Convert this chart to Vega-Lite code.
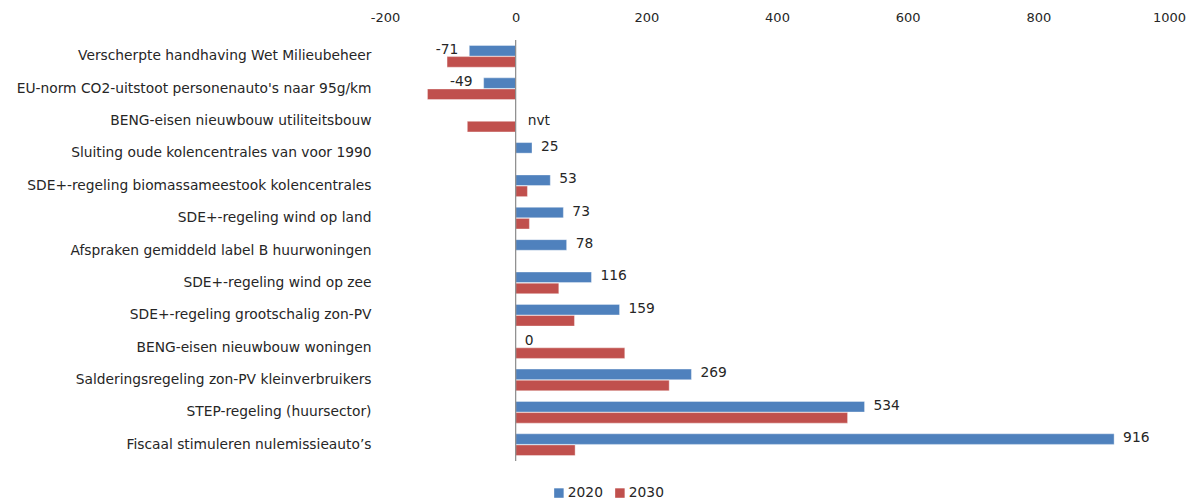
{
  "$schema": "https://vega.github.io/schema/vega-lite/v6.json",
  "width": 784,
  "height": 421,
  "autosize": {"type": "none"},
  "padding": {"left": 385, "top": 40, "right": 30, "bottom": 43},
  "background": "white",
  "config": {
    "view": {"stroke": null},
    "font": "DejaVu Sans",
    "text": {"font": "DejaVu Sans"}
  },
  "data": {
    "values": [
      {"category": "Verscherpte handhaving Wet Milieubeheer", "year": "2020", "value": -71, "label": "-71"},
      {"category": "Verscherpte handhaving Wet Milieubeheer", "year": "2030", "value": -105},
      {"category": "EU-norm CO2-uitstoot personenauto's naar 95g/km", "year": "2020", "value": -49, "label": "-49"},
      {"category": "EU-norm CO2-uitstoot personenauto's naar 95g/km", "year": "2030", "value": -135},
      {"category": "BENG-eisen nieuwbouw utiliteitsbouw", "year": "2020", "value": null, "label": "nvt"},
      {"category": "BENG-eisen nieuwbouw utiliteitsbouw", "year": "2030", "value": -74},
      {"category": "Sluiting oude kolencentrales van voor 1990", "year": "2020", "value": 25, "label": "25"},
      {"category": "Sluiting oude kolencentrales van voor 1990", "year": "2030", "value": null},
      {"category": "SDE+-regeling biomassameestook kolencentrales", "year": "2020", "value": 53, "label": "53"},
      {"category": "SDE+-regeling biomassameestook kolencentrales", "year": "2030", "value": 18},
      {"category": "SDE+-regeling wind op land", "year": "2020", "value": 73, "label": "73"},
      {"category": "SDE+-regeling wind op land", "year": "2030", "value": 21},
      {"category": "Afspraken gemiddeld label B huurwoningen", "year": "2020", "value": 78, "label": "78"},
      {"category": "Afspraken gemiddeld label B huurwoningen", "year": "2030", "value": null},
      {"category": "SDE+-regeling wind op zee", "year": "2020", "value": 116, "label": "116"},
      {"category": "SDE+-regeling wind op zee", "year": "2030", "value": 66},
      {"category": "SDE+-regeling grootschalig zon-PV", "year": "2020", "value": 159, "label": "159"},
      {"category": "SDE+-regeling grootschalig zon-PV", "year": "2030", "value": 90},
      {"category": "BENG-eisen nieuwbouw woningen", "year": "2020", "value": 0, "label": "0"},
      {"category": "BENG-eisen nieuwbouw woningen", "year": "2030", "value": 167},
      {"category": "Salderingsregeling zon-PV kleinverbruikers", "year": "2020", "value": 269, "label": "269"},
      {"category": "Salderingsregeling zon-PV kleinverbruikers", "year": "2030", "value": 235},
      {"category": "STEP-regeling (huursector)", "year": "2020", "value": 534, "label": "534"},
      {"category": "STEP-regeling (huursector)", "year": "2030", "value": 508},
      {"category": "Fiscaal stimuleren nulemissieauto’s", "year": "2020", "value": 916, "label": "916"},
      {"category": "Fiscaal stimuleren nulemissieauto’s", "year": "2030", "value": 91}
    ]
  },
  "encoding": {
    "y": {
      "field": "category",
      "type": "nominal",
      "sort": null,
      "scale": {"paddingInner": 0.33, "paddingOuter": 0.17},
      "axis": {
        "title": null,
        "domain": false,
        "ticks": false,
        "labelPadding": 14,
        "labelFontSize": 13.8,
        "labelColor": "#262626",
        "labelLimit": 400
      }
    }
  },
  "layer": [
    {
      "mark": {"type": "bar", "stroke": "white", "strokeWidth": 0.6, "strokeOpacity": 0.6},
      "transform": [{"filter": "datum.value != null"}],
      "encoding": {
        "x": {
          "field": "value",
          "type": "quantitative",
          "scale": {"domain": [-200, 1000], "nice": false, "zero": false},
          "axis": {
            "orient": "top",
            "values": [-200, 0, 200, 400, 600, 800, 1000],
            "labelExpr": "datum.value + ''",
            "labelFlush": false,
            "title": null,
            "domain": false,
            "ticks": false,
            "grid": false,
            "labelPadding": 16,
            "labelFontSize": 13,
            "labelColor": "#262626"
          }
        },
        "yOffset": {"field": "year", "type": "nominal", "scale": {"paddingInner": 0.05}},
        "color": {
          "field": "year",
          "type": "nominal",
          "scale": {"domain": ["2020", "2030"], "range": ["#4F81BD", "#C0504D"]},
          "legend": {
            "title": null,
            "orient": "none",
            "direction": "horizontal",
            "legendX": 167,
            "legendY": 446,
            "symbolType": "square",
            "symbolSize": 90,
            "symbolStrokeWidth": 0,
            "labelFontSize": 13.8,
            "labelColor": "#262626",
            "labelOffset": 2,
            "columnPadding": 10
          }
        }
      }
    },
    {
      "mark": {"type": "rule", "color": "#8a8a8a", "strokeWidth": 1.2},
      "data": {"values": [{"zero": 0}]},
      "encoding": {
        "x": {"field": "zero", "type": "quantitative"},
        "y": null
      }
    },
    {
      "mark": {"type": "text", "align": "left", "baseline": "middle", "dx": 9, "dy": -1, "fontSize": 13.8, "color": "#262626"},
      "transform": [{"filter": "datum.year == '2020' && datum.value != null && datum.value >= 0"}],
      "encoding": {
        "x": {"field": "value", "type": "quantitative"},
        "yOffset": {"field": "year", "type": "nominal"},
        "text": {"field": "label"}
      }
    },
    {
      "mark": {"type": "text", "align": "right", "baseline": "middle", "dx": -11, "dy": -1, "fontSize": 13.8, "color": "#262626"},
      "transform": [{"filter": "datum.year == '2020' && datum.value != null && datum.value < 0"}],
      "encoding": {
        "x": {"field": "value", "type": "quantitative"},
        "yOffset": {"field": "year", "type": "nominal"},
        "text": {"field": "label"}
      }
    },
    {
      "mark": {"type": "text", "align": "left", "baseline": "middle", "dx": 12, "dy": 0, "fontSize": 13.8, "color": "#262626"},
      "transform": [{"filter": "datum.year == '2020' && datum.value == null"}],
      "encoding": {
        "x": {"datum": 0, "type": "quantitative"},
        "text": {"field": "label"}
      }
    }
  ]
}
